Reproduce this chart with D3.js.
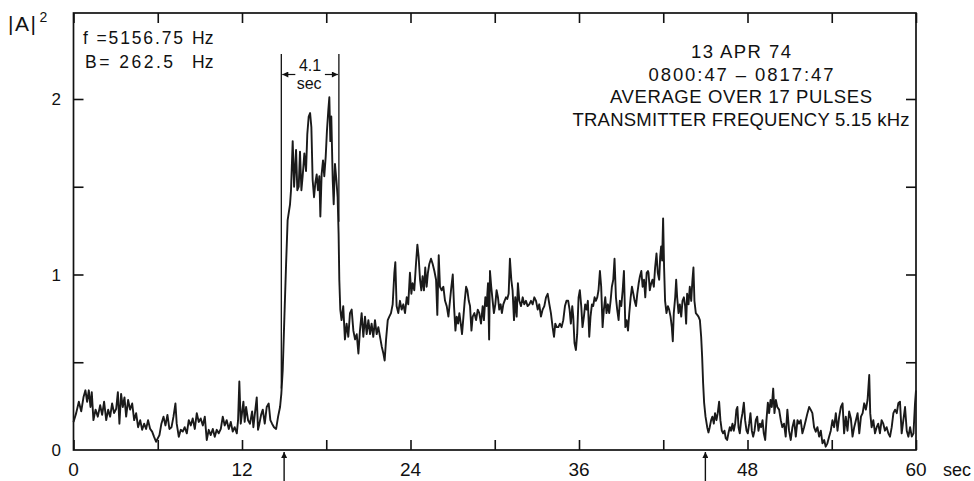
<!DOCTYPE html>
<html lang="en">
<head>
  <meta charset="UTF-8">
  <title>|A|^2 pulse average</title>
  <script src="https://cdn.jsdelivr.net/npm/d3@7"></script>
  <style>
    body { margin: 0; background: #fff; }
    svg text { font-family: 'Liberation Sans', Arial, sans-serif; fill: #111; }
  </style>
</head>
<body>
  <div id="app"></div>
<script>
  // time (sec), |A|^2
  const trace = [
    [0.00,0.16],[0.19,0.21],[0.38,0.275],[0.55,0.22],[0.71,0.30],[0.85,0.34],[0.97,0.275],[1.09,0.34],[1.21,0.245],[1.30,0.33],
    [1.42,0.17],[1.57,0.23],[1.73,0.19],[1.90,0.255],[2.04,0.20],[2.18,0.275],[2.33,0.17],[2.47,0.23],[2.61,0.19],[2.75,0.265],
    [2.89,0.21],[3.04,0.235],[3.16,0.33],[3.27,0.15],[3.39,0.32],[3.51,0.245],[3.63,0.30],[3.75,0.19],[3.89,0.285],[4.03,0.23],
    [4.18,0.265],[4.32,0.17],[4.46,0.21],[4.60,0.13],[4.75,0.17],[4.89,0.115],[5.03,0.15],[5.17,0.12],[5.31,0.17],[5.46,0.12],
    [5.60,0.105],[5.74,0.075],[5.88,0.047],[6.00,0.066],[6.12,0.085],[6.26,0.15],[6.41,0.19],[6.55,0.14],[6.69,0.20],[6.83,0.12],
    [6.98,0.13],[7.12,0.19],[7.26,0.265],[7.35,0.15],[7.50,0.075],[7.64,0.115],[7.78,0.105],[7.92,0.13],[8.07,0.095],[8.21,0.17],
    [8.35,0.14],[8.49,0.18],[8.64,0.12],[8.78,0.21],[8.92,0.16],[9.06,0.18],[9.21,0.14],[9.35,0.19],[9.49,0.057],[9.63,0.115],
    [9.77,0.085],[9.92,0.12],[10.06,0.075],[10.20,0.115],[10.34,0.095],[10.49,0.12],[10.63,0.19],[10.77,0.14],[10.91,0.17],[11.06,0.12],
    [11.20,0.16],[11.34,0.105],[11.48,0.13],[11.63,0.095],[11.72,0.17],[11.81,0.39],[11.91,0.15],[12.00,0.21],[12.10,0.275],[12.19,0.16],
    [12.29,0.245],[12.43,0.17],[12.57,0.15],[12.72,0.22],[12.81,0.13],[12.95,0.23],[13.05,0.30],[13.14,0.115],[13.24,0.15],[13.36,0.20],
    [13.48,0.23],[13.62,0.15],[13.76,0.245],[13.90,0.265],[14.02,0.17],[14.14,0.15],[14.28,0.13],[14.43,0.12],[14.57,0.19],[14.71,0.245],
    [14.80,0.32],[14.90,0.455],
    [15.02,0.76],[15.14,1.06],[15.25,1.31],[15.42,1.40],[15.49,1.48],[15.61,1.76],[15.71,1.50],[15.85,1.71],[15.94,1.48],[16.04,1.50],
    [16.13,1.70],[16.23,1.48],[16.32,1.56],[16.44,1.69],[16.56,1.59],[16.65,1.80],[16.75,1.90],[16.85,1.92],[16.94,1.84],[17.03,1.54],
    [17.13,1.44],[17.22,1.52],[17.32,1.57],[17.41,1.48],[17.51,1.56],[17.58,1.33],[17.67,1.57],[17.77,1.65],[17.86,1.56],[17.96,1.67],
    [18.05,1.82],[18.15,1.94],[18.22,2.01],[18.29,1.76],[18.36,1.90],[18.46,1.54],[18.53,1.40],[18.62,1.63],[18.72,1.54],[18.81,1.44],
    [18.88,1.23],[18.93,0.97],[19.00,0.80],[19.09,0.74],[19.21,0.82],[19.33,0.63],[19.45,0.72],[19.57,0.645],[19.69,0.78],[19.81,0.80],
    [19.93,0.68],[20.05,0.63],[20.17,0.66],[20.29,0.55],[20.40,0.68],[20.52,0.78],[20.64,0.645],[20.76,0.76],[20.88,0.66],[21.00,0.74],
    [21.12,0.66],[21.23,0.72],[21.35,0.645],[21.47,0.74],[21.59,0.66],[21.71,0.70],[21.83,0.645],[21.95,0.59],[22.07,0.55],[22.16,0.51],
    [22.26,0.63],[22.38,0.74],
    [22.49,0.76],[22.61,0.78],[22.73,0.83],[22.85,1.01],[22.92,1.07],[23.01,0.82],[23.13,0.78],[23.25,0.85],[23.37,0.80],[23.49,0.83],
    [23.61,0.78],[23.73,0.87],[23.84,0.83],[23.96,1.01],[24.06,0.89],[24.15,0.95],[24.27,0.91],[24.39,1.06],[24.49,1.17],[24.58,1.10],
    [24.68,0.97],[24.77,0.91],[24.86,0.99],[24.96,0.91],[25.05,1.04],[25.15,0.93],[25.24,1.01],[25.34,1.06],[25.46,1.09],[25.58,1.06],
    [25.70,1.02],[25.82,0.97],[25.91,0.77],[26.01,1.11],[26.10,0.93],[26.22,0.91],[26.34,0.93],[26.46,0.85],[26.58,0.82],[26.70,0.76],
    [26.81,0.85],[26.91,0.93],[27.01,1.00],[27.10,0.82],[27.20,0.68],[27.29,0.76],[27.39,0.72],[27.48,0.78],[27.58,0.72],[27.67,0.66],
    [27.77,0.76],[27.86,0.85],[27.96,0.93],[28.05,0.91],[28.15,0.85],[28.24,0.82],[28.34,0.68],[28.43,0.76],[28.55,0.78],[28.67,0.74],
    [28.79,0.80],[28.90,0.78],[29.02,0.72],[29.14,0.82],[29.23,0.74],[29.33,0.87],[29.42,0.82],[29.52,0.95],[29.60,0.63],[29.66,1.02],
    [29.75,0.93],[29.85,0.85],[29.94,0.78],[30.04,0.83],[30.13,0.91],[30.23,0.87],[30.32,0.80],[30.42,0.83],[30.51,0.78],[30.61,0.83],
    [30.70,0.85],[30.80,0.87],[30.89,0.86],[30.99,0.89],[31.08,1.09],[31.18,0.97],[31.27,0.91],[31.37,0.74],[31.46,0.87],[31.56,0.76],
    [31.65,0.95],[31.75,0.85],[31.87,0.82],[31.99,0.87],[32.10,0.83],[32.22,0.85],[32.34,0.82],[32.46,0.83],[32.58,0.85],[32.70,0.83],
    [32.82,0.87],[32.94,0.85],[33.06,0.80],[33.17,0.83],[33.29,0.76],[33.41,0.80],[33.53,0.82],[33.65,0.87],[33.77,0.89],[33.89,0.83],
    [34.00,0.78],[34.12,0.70],[34.22,0.645],[34.31,0.72],[34.41,0.70],[34.53,0.70],[34.64,0.72],[34.76,0.70],[34.88,0.74],[35.00,0.82],
    [35.11,0.85],[35.23,0.85],[35.33,0.80],[35.42,0.72],[35.52,0.82],[35.59,0.76],[35.68,0.61],[35.78,0.57],[35.87,0.66],[35.97,0.87],
    [36.06,0.91],[36.16,0.82],[36.25,0.70],[36.35,0.76],[36.44,0.83],[36.54,0.80],[36.63,0.85],[36.73,0.645],[36.82,0.76],[36.92,0.83],
    [37.01,0.82],[37.11,0.87],[37.20,0.85],[37.30,0.87],[37.39,0.91],[37.49,1.02],[37.58,0.93],[37.68,0.70],[37.77,0.80],[37.87,0.87],
    [37.96,0.78],[38.06,0.83],[38.15,0.78],[38.25,0.85],[38.34,0.93],[38.44,0.97],[38.53,1.09],[38.63,0.87],[38.72,0.80],[38.82,0.74],
    [38.91,0.85],[39.01,0.82],[39.11,0.91],[39.20,1.02],[39.30,0.70],[39.39,0.74],[39.49,0.68],[39.58,0.78],[39.68,0.87],[39.77,0.93],
    [39.87,0.89],[39.96,0.85],[40.06,0.82],[40.15,0.89],[40.25,0.95],[40.34,0.99],[40.44,1.02],[40.53,0.93],[40.63,0.97],[40.72,0.87],
    [40.82,1.01],[40.91,1.02],
    [40.95,1.01],[41.04,0.91],[41.14,0.95],[41.23,0.97],[41.33,0.93],[41.42,1.04],[41.52,1.12],[41.61,1.01],[41.71,0.97],[41.78,1.10],
    [41.85,1.16],[41.92,1.08],[41.99,1.32],[42.06,1.04],[42.13,0.85],[42.23,0.78],[42.33,0.82],[42.42,0.80],[42.52,0.76],[42.61,0.70],
    [42.68,0.62],[42.75,0.78],[42.85,0.87],[42.92,0.97],[42.99,0.87],[43.09,0.78],[43.18,0.83],[43.28,0.76],[43.37,0.85],[43.47,0.87],
    [43.56,0.82],[43.63,0.72],[43.70,0.89],[43.80,0.83],[43.89,0.93],[43.99,0.85],[44.08,0.97],[44.15,1.04],[44.22,0.85],[44.32,0.78],
    [44.42,0.77],[44.51,0.76],[44.61,0.74],[44.70,0.645],[44.77,0.53],[44.84,0.38],[44.91,0.27],[45.01,0.19],[45.13,0.13],[45.22,0.10],
    [45.31,0.13],[45.41,0.17],[45.50,0.19],[45.60,0.15],[45.69,0.21],[45.79,0.17],[45.88,0.21],[45.98,0.275],[46.07,0.17],[46.17,0.11],
    [46.26,0.095],[46.36,0.11],[46.45,0.067],[46.55,0.057],[46.64,0.095],[46.74,0.13],[46.83,0.11],[46.93,0.15],[47.02,0.11],[47.12,0.15],
    [47.21,0.23],[47.28,0.245],[47.36,0.13],[47.45,0.095],[47.55,0.17],[47.64,0.21],[47.74,0.27],[47.83,0.17],[47.93,0.11],[48.02,0.095],
    [48.12,0.15],[48.21,0.21],[48.31,0.11],[48.40,0.076],[48.50,0.11],[48.59,0.17],[48.69,0.19],[48.78,0.11],[48.88,0.15],[48.97,0.13],
    [49.07,0.17],[49.16,0.095],[49.26,0.057],[49.35,0.17],[49.45,0.27],[49.54,0.21],[49.64,0.285],[49.73,0.245],[49.83,0.35],[49.92,0.21],
    [50.02,0.285],[50.12,0.245],
    [50.25,0.23],[50.37,0.17],[50.48,0.13],[50.60,0.15],[50.72,0.076],[50.84,0.23],[50.96,0.11],[51.08,0.057],[51.20,0.13],[51.32,0.17],
    [51.44,0.076],[51.56,0.17],[51.67,0.15],[51.79,0.17],[51.91,0.095],[52.03,0.13],[52.15,0.17],[52.27,0.21],[52.39,0.245],[52.50,0.23],
    [52.62,0.21],[52.74,0.13],[52.86,0.104],[52.98,0.13],[53.10,0.076],[53.22,0.11],[53.34,0.038],[53.46,0.057],[53.57,0.019],[53.69,0.038],
    [53.81,0.076],[53.93,0.11],[54.05,0.17],[54.17,0.13],[54.29,0.21],[54.41,0.11],[54.53,0.19],[54.65,0.245],[54.77,0.266],[54.88,0.095],
    [55.00,0.19],[55.12,0.11],[55.24,0.22],[55.36,0.18],[55.48,0.076],[55.60,0.13],[55.72,0.17],[55.84,0.21],[55.96,0.095],[56.08,0.19],
    [56.20,0.21],[56.31,0.266],[56.43,0.23],[56.55,0.285],[56.67,0.427],[56.74,0.21],[56.84,0.13],[56.96,0.17],[57.08,0.095],[57.20,0.13],
    [57.31,0.15],[57.43,0.095],[57.55,0.17],[57.67,0.15],[57.79,0.11],[57.91,0.13],[58.03,0.095],[58.15,0.076],[58.27,0.13],[58.39,0.21],
    [58.51,0.23],[58.63,0.21],[58.74,0.266],[58.86,0.275],[58.98,0.095],[59.10,0.17],[59.22,0.245],[59.34,0.11],[59.46,0.076],[59.58,0.13],
    [59.70,0.076],[59.82,0.095],[59.93,0.266],[60.00,0.34]
  ];

  const xTicks = [0, 6, 12, 18, 24, 30, 36, 42, 48, 54, 60];
  const xLabels = [0, 12, 24, 36, 48, 60];
  const yTicks = [0.5, 1, 1.5, 2];
  const yLabels = [0, 1, 2];
  const pulseEdges = [15, 45];          // arrows under the axis
  const widthMarks = [14.8, 18.9];      // the 4.1 sec bracket
  const widthText = ['4.1', 'sec'];
  const infoLeft = [['f =5156.75', 'Hz'], ['B= 262.5', 'Hz']];
  const infoRight = ['13 APR 74', '0800:47 \u2013 0817:47', 'AVERAGE OVER 17 PULSES', 'TRANSMITTER FREQUENCY 5.15 kHz'];

  const w = 974;
  const h = 481;
  const x = d3.scaleLinear().domain([0, 60]).range([73.5, 916]);
  const y = d3.scaleLinear().domain([0, 2.49]).range([450, 13]);

  const svg = d3.select('#app')
    .append('svg')
    .attr('width', w)
    .attr('height', h);

  // frame
  svg.append('rect')
    .attr('x', x(0))
    .attr('y', y(2.49))
    .attr('width', x(60) - x(0))
    .attr('height', y(0) - y(2.49))
    .attr('fill', 'none')
    .attr('stroke', '#111')
    .attr('stroke-width', 1.7);

  // inward ticks on all four sides
  const tickLen = -10;
  const axes = [
    [d3.axisBottom(x).tickValues(xTicks), `translate(0,${y(0)})`],
    [d3.axisTop(x).tickValues(xTicks), `translate(0,${y(2.49)})`],
    [d3.axisLeft(y).tickValues(yTicks), `translate(${x(0)},0)`],
    [d3.axisRight(y).tickValues(yTicks), `translate(${x(60)},0)`]
  ];
  axes.forEach(([ax, tr]) => {
    const g = svg.append('g')
      .attr('transform', tr)
      .call(ax.tickSize(tickLen).tickFormat(''));
    g.select('.domain').remove();
    g.selectAll('line').attr('stroke', '#111').attr('stroke-width', 1.6);
  });

  // tick labels
  svg.append('g')
    .selectAll('text')
    .data(xLabels)
    .enter()
    .append('text')
    .attr('x', d => x(d))
    .attr('y', 476)
    .attr('text-anchor', 'middle')
    .attr('font-size', 19)
    .text(d => d);
  svg.append('text')
    .attr('x', 943)
    .attr('y', 476)
    .attr('font-size', 18)
    .text('sec');

  svg.append('g')
    .selectAll('text')
    .data(yLabels)
    .enter()
    .append('text')
    .attr('x', 61)
    .attr('y', d => y(d))
    .attr('dy', '0.36em')
    .attr('text-anchor', 'end')
    .attr('font-size', 17)
    .text(d => d);

  // y title |A|^2
  const yTitle = svg.append('text')
    .attr('x', 8)
    .attr('y', 31)
    .attr('font-size', 21)
    .attr('letter-spacing', 1.5);
  yTitle.append('tspan').text('|A|');
  yTitle.append('tspan')
    .attr('dx', 2)
    .attr('dy', -9)
    .attr('font-size', 14)
    .text('2');

  // trace
  const line = d3.line()
    .x(d => x(d[0]))
    .y(d => y(d[1]));
  svg.append('path')
    .datum(trace)
    .attr('d', line)
    .attr('fill', 'none')
    .attr('stroke', '#1a1a1a')
    .attr('stroke-width', 1.9)
    .attr('stroke-linejoin', 'round');

  // left info
  const infoLeftWidths = [100, 88];
  infoLeft.forEach((row, i) => {
    const yy = 44 + i * 24;
    svg.append('text')
      .attr('x', i === 0 ? 83 : 85)
      .attr('y', yy)
      .attr('font-size', 17.5)
      .attr('textLength', infoLeftWidths[i])
      .attr('lengthAdjust', 'spacing')
      .text(row[0]);
    svg.append('text')
      .attr('x', 192)
      .attr('y', yy)
      .attr('font-size', 17.5)
      .text(row[1]);
  });

  // right info block
  const infoWidths = [100, 185, 262, 337];
  svg.append('g')
    .selectAll('text')
    .data(infoRight)
    .enter()
    .append('text')
    .attr('x', 741)
    .attr('y', (d, i) => 58 + i * 22.7)
    .attr('text-anchor', 'middle')
    .attr('font-size', 18.5)
    .attr('textLength', (d, i) => infoWidths[i])
    .attr('lengthAdjust', 'spacing')
    .text(d => d);

  // 4.1 sec bracket
  const defs = svg.append('defs');
  defs.append('marker')
    .attr('id', 'ah')
    .attr('viewBox', '0 0 10 10')
    .attr('refX', 10)
    .attr('refY', 5)
    .attr('markerWidth', 8)
    .attr('markerHeight', 6)
    .attr('markerUnits', 'userSpaceOnUse')
    .attr('orient', 'auto')
    .append('path')
    .attr('d', 'M0,0L10,5L0,10Z')
    .attr('fill', '#111');

  const [wa, wb] = widthMarks;
  svg.append('line')
    .attr('x1', x(wa)).attr('x2', x(wa))
    .attr('y1', 54).attr('y2', y(0.35))
    .attr('stroke', '#111').attr('stroke-width', 1.3);
  svg.append('line')
    .attr('x1', x(wb)).attr('x2', x(wb))
    .attr('y1', 54).attr('y2', y(1.3))
    .attr('stroke', '#111').attr('stroke-width', 1.3);
  svg.append('line')
    .attr('x1', x(wa) + 14).attr('x2', x(wa) + 1)
    .attr('y1', 74.5).attr('y2', 74.5)
    .attr('stroke', '#111').attr('stroke-width', 1.2)
    .attr('marker-end', 'url(#ah)');
  svg.append('line')
    .attr('x1', x(wb) - 14).attr('x2', x(wb) - 1)
    .attr('y1', 74.5).attr('y2', 74.5)
    .attr('stroke', '#111').attr('stroke-width', 1.2)
    .attr('marker-end', 'url(#ah)');
  svg.append('text')
    .attr('x', (x(wa) + x(wb)) / 2)
    .attr('y', 71)
    .attr('text-anchor', 'middle')
    .attr('font-size', 16)
    .text(widthText[0]);
  svg.append('text')
    .attr('x', (x(wa) + x(wb)) / 2 - 1)
    .attr('y', 89)
    .attr('text-anchor', 'middle')
    .attr('font-size', 16)
    .text(widthText[1]);

  // pulse start / end arrows below the axis
  pulseEdges.forEach(t => {
    svg.append('line')
      .attr('x1', x(t)).attr('x2', x(t))
      .attr('y1', h).attr('y2', y(0) + 2)
      .attr('stroke', '#111').attr('stroke-width', 1.4)
      .attr('marker-end', 'url(#ah)');
  });
</script>
</body>
</html>
